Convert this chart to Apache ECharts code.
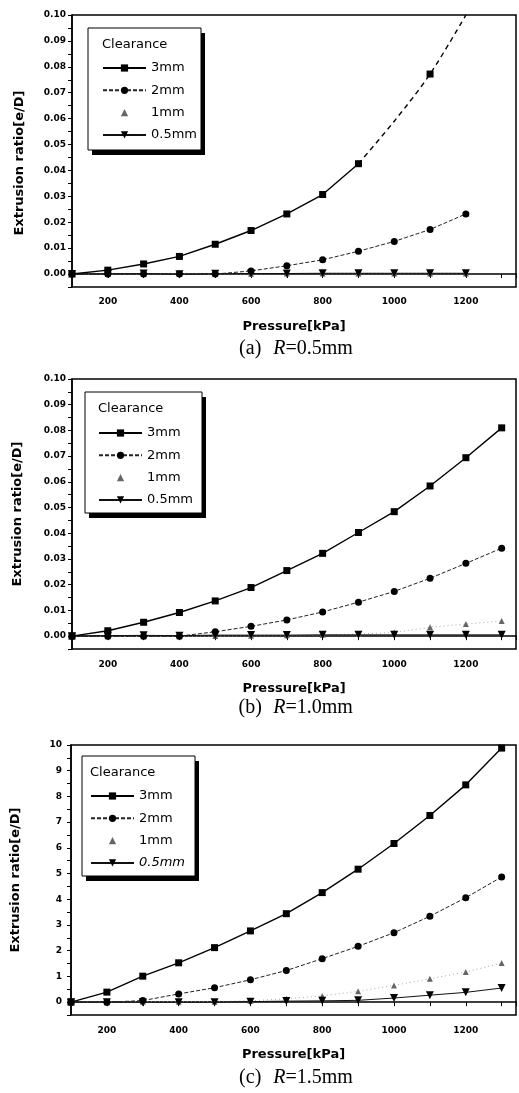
<!DOCTYPE html>
<html lang="en">
<head>
<meta charset="UTF-8">
<title>Extrusion ratio vs pressure</title>
<script src="https://cdn.jsdelivr.net/npm/echarts@6/dist/echarts.min.js"></script>
<style>
    * { margin: 0; padding: 0 }
    html, body { width: 100%; height: 100%; background: #fff; }
    #main { width: 519px; height: 1093px; }
</style>
</head>
<body>
<div id="main"></div>
<script type="text/javascript">
    var pressure = [100, 200, 300, 400, 500, 600, 700, 800, 900, 1000, 1100, 1200, 1300];
    var clearances = ['3mm', '2mm', '1mm', '0.5mm'];

    // (a) R=0.5mm
    var a3mm = [0, 0.0015, 0.0039, 0.0068, 0.0115, 0.0168, 0.0232, 0.0307, 0.0426];
    var a3mmExtP = [900, 1000, 1100, 1200];
    var a3mmExtV = [0.0426, 0.059, 0.0772, 0.1];
    var a3mmExtMark = [false, false, true, false];
    var a2mm = [0, 0, 0, 0, 0, 0.0012, 0.0032, 0.0055, 0.0088, 0.0126, 0.0172, 0.0232];
    var a1mm = [0, 0.0001, 0.0001, 0.0001, 0.0001, 0.0001, 0.0002, 0.0002, 0.0002, 0.0002, 0.0002, 0.0002];
    var a05mm = [0, 0.0001, 0.0002, -0.0001, 0.0001, 0.0002, 0.0002, 0.0003, 0.0003, 0.0003, 0.0003, 0.0003];

    // (b) R=1.0mm
    var b3mm = [0, 0.0021, 0.0054, 0.0092, 0.0137, 0.0189, 0.0255, 0.0322, 0.0403, 0.0484, 0.0584, 0.0694, 0.081];
    var b2mm = [0, 0, 0, 0, 0.0017, 0.0038, 0.0063, 0.0094, 0.0132, 0.0174, 0.0225, 0.0283, 0.0342];
    var b1mm = [0, 0, 0, 0, 0.0001, 0.0002, 0.0003, 0.0005, 0.0008, 0.0014, 0.0035, 0.0047, 0.0059];
    var b05mm = [0, 0.0002, 0.0003, 0.0002, 0.0004, 0.0004, 0.0004, 0.0005, 0.0005, 0.0005, 0.0005, 0.0005, 0.0005];

    // (c) R=1.5mm
    var c3mm = [0, 0.39, 1.01, 1.53, 2.12, 2.77, 3.44, 4.26, 5.17, 6.17, 7.26, 8.45, 9.88];
    var c2mm = [0, 0, 0.06, 0.32, 0.56, 0.87, 1.23, 1.69, 2.17, 2.7, 3.34, 4.06, 4.87];
    var c1mm = [0, 0, 0.02, 0.02, 0.02, 0.05, 0.13, 0.24, 0.42, 0.65, 0.91, 1.17, 1.52];
    var c05mm = [0, 0, 0, 0, 0, 0.02, 0.04, 0.05, 0.07, 0.16, 0.27, 0.38, 0.55];

    var captionTags = ['(a)', '(b)', '(c)'];
    var captionRadii = ['=0.5mm', '=1.0mm', '=1.5mm'];

    var myChart = echarts.init(document.getElementById('main'));

    var sans = 'DejaVu Sans';

    // layout of each panel
    var panels = [
        { left: 72, top: 15, height: 272, yMin: -0.005, yMax: 0.1, yStep: 0.005, dec: 2, labelMargin: 6, nameGap: 46, xMargin: 10,
          box: [88, 28, 113, 122], legendLeft: 102, legendTop: 61.5, caption: 349, namePad: [0, 24, 0, 0] },
        { left: 72, top: 379, height: 270, yMin: -0.005, yMax: 0.1, yStep: 0.005, dec: 2, labelMargin: 6, nameGap: 48, xMargin: 11,
          box: [85, 392, 117, 121], legendLeft: 98, legendTop: 426.5, caption: 708, namePad: [0, 0, 0, 0] },
        { left: 71, top: 745, height: 270, yMin: -0.5, yMax: 10, yStep: 0.5, dec: 0, labelMargin: 9, nameGap: 49, xMargin: 11,
          box: [82, 756, 113, 120], legendLeft: 90, legendTop: 789.5, caption: 1078, namePad: [0, 0, 0, 0] }
    ];

    var panelData = [
        [a3mm, a2mm, a1mm, a05mm],
        [b3mm, b2mm, b1mm, b05mm],
        [c3mm, c2mm, c1mm, c05mm]
    ];

    var styles = {
        '3mm': { symbol: 'rect', symbolSize: 7, z: 6, lineStyle: { color: '#000', width: 1.4 }, itemStyle: { color: '#000' } },
        '2mm': { symbol: 'circle', symbolSize: 7, z: 5, lineStyle: { color: '#222', width: 1, type: [4, 2] }, itemStyle: { color: '#000' } },
        '1mm': { symbol: 'triangle', symbolSize: 6, z: 3, lineStyle: { color: '#aaa', width: 1, type: [1, 3] }, itemStyle: { color: '#666' } },
        '0.5mm': { symbol: 'triangle', symbolRotate: 180, symbolSize: 8, z: 4, lineStyle: { color: '#111', width: 1 }, itemStyle: { color: '#000' } }
    };

    function pairs(xs, ys) {
        return ys.map(function (y, i) { return [xs[i], y]; });
    }

    var grids = [], xAxes = [], yAxes = [], series = [], legends = [], graphics = [];

    panels.forEach(function (p, k) {
        grids.push({ left: p.left, top: p.top, width: 517 - p.left, height: p.height,
            show: true, borderColor: '#000', borderWidth: 1.5, backgroundColor: 'transparent' });

        xAxes.push({
            type: 'value', gridIndex: k, min: 100, max: 1340, interval: 100,
            name: 'Pressure[kPa]', nameLocation: 'middle', nameGap: 33,
            nameTextStyle: { fontFamily: sans, fontWeight: 'bold', fontSize: 13, color: '#000' },
            axisLine: { lineStyle: { color: '#000', width: 1.5 } },
            axisTick: { length: 4, lineStyle: { color: '#000' } },
            splitLine: { show: false },
            axisLabel: {
                margin: p.xMargin, color: '#000', fontFamily: sans, fontWeight: 'bold', fontSize: 9,
                formatter: function (v) { return v % 200 === 0 ? String(v) : ''; }
            }
        });

        yAxes.push({
            type: 'value', gridIndex: k, min: p.yMin, max: p.yMax, interval: p.yStep,
            name: 'Extrusion ratio[e/D]', nameLocation: 'middle', nameGap: p.nameGap,
            nameTextStyle: { fontFamily: sans, fontWeight: 'bold', fontSize: 13, color: '#000', padding: p.namePad },
            axisLine: { show: true, lineStyle: { color: '#000', width: 1.5 } },
            axisTick: { length: 4, lineStyle: { color: '#000' } },
            splitLine: { show: false },
            axisLabel: {
                margin: p.labelMargin, color: '#000', fontFamily: sans, fontWeight: 'bold', fontSize: 9,
                formatter: function (v) {
                    var n = Math.round(v / p.yStep);
                    return n % 2 === 0 && n >= 0 ? v.toFixed(p.dec) : '';
                }
            }
        });

        clearances.forEach(function (c, j) {
            var s = styles[c];
            series.push({
                name: c, type: 'line', xAxisIndex: k, yAxisIndex: k,
                data: pairs(pressure, panelData[k][j]),
                symbol: s.symbol, symbolSize: s.symbolSize, symbolRotate: s.symbolRotate || 0,
                z: s.z, lineStyle: s.lineStyle, itemStyle: s.itemStyle,
                showAllSymbol: true, animation: false, clip: true
            });
        });

        if (k === 0) {
            series.push({
                name: '3mm extrapolated', type: 'line', xAxisIndex: 0, yAxisIndex: 0,
                data: a3mmExtP.map(function (x, i) {
                    return { value: [x, a3mmExtV[i]], symbol: a3mmExtMark[i] ? 'rect' : 'none' };
                }),
                symbolSize: 7, z: 6, smooth: 0.3,
                lineStyle: { color: '#000', width: 1.4, type: [5, 4] }, itemStyle: { color: '#000' },
                showAllSymbol: true, animation: false, clip: true
            });
        }

        legends.push({
            orient: 'vertical', left: p.legendLeft, top: p.legendTop, padding: 0,
            itemWidth: 43, itemHeight: 9, itemGap: 9.3, selectedMode: false, z: 20,
            data: clearances.map(function (c) {
                return c === '1mm' ? { name: c, lineStyle: { opacity: 0 } } : { name: c };
            }),
            textStyle: { fontFamily: sans, fontSize: 13, color: '#000',
                rich: { i: { fontFamily: sans, fontSize: 13, fontStyle: 'italic', color: '#000' } } },
            formatter: function (name) {
                return (k === 2 && name === '0.5mm') ? '{i|' + name + '}' : name;
            }
        });

        var b = p.box;
        graphics.push({ type: 'rect', z: 10, shape: { x: b[0] + 4, y: b[1] + 5, width: b[2], height: b[3] }, style: { fill: '#000' } });
        graphics.push({ type: 'rect', z: 11, shape: { x: b[0], y: b[1], width: b[2], height: b[3] }, style: { fill: '#fff', stroke: '#000', lineWidth: 1 } });
        graphics.push({ type: 'text', z: 12, style: { text: 'Clearance', x: p.legendLeft, y: b[1] + 17, fill: '#000',
            fontFamily: sans, fontSize: 13, verticalAlign: 'middle' } });
        graphics.push({ type: 'text', z: 12, style: {
            text: '{t|' + captionTags[k] + '}{r|R}{n|' + captionRadii[k] + '}',
            x: 290, y: p.caption, align: 'center', verticalAlign: 'middle',
            rich: {
                t: { fontFamily: 'Liberation Serif', fontSize: 20, color: '#000', width: 46 },
                r: { fontFamily: 'Liberation Serif', fontSize: 20, color: '#000', fontStyle: 'italic' },
                n: { fontFamily: 'Liberation Serif', fontSize: 20, color: '#000' }
            }
        } });
    });

    var option = {
        animation: false,
        backgroundColor: '#fff',
        grid: grids,
        xAxis: xAxes,
        yAxis: yAxes,
        legend: legends,
        graphic: graphics,
        series: series
    };

    myChart.setOption(option);
</script>
</body>
</html>
